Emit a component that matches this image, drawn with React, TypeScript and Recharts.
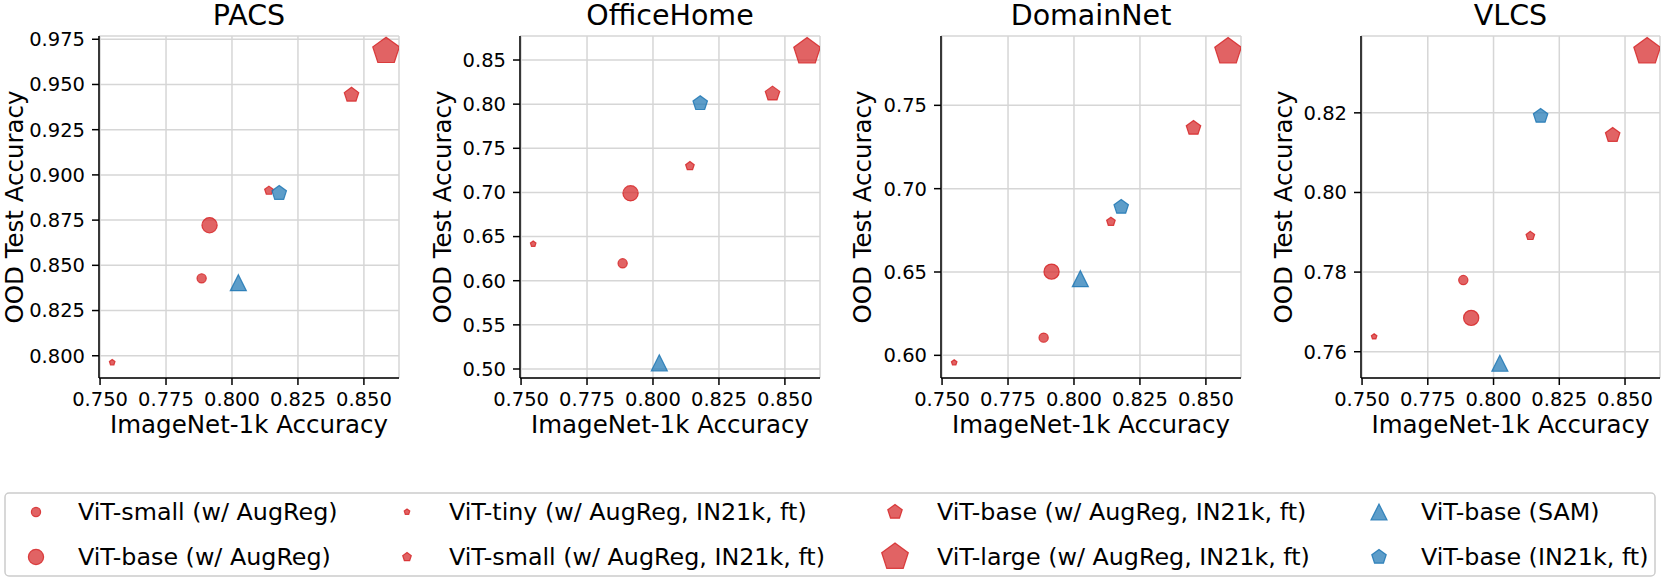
import React from 'react';
import { ScatterChart, Scatter, XAxis, YAxis, CartesianGrid } from 'recharts';

// ---------- data ----------
const MODELS = [
  'ViT-small (w/ AugReg)',
  'ViT-base (w/ AugReg)',
  'ViT-tiny (w/ AugReg, IN21k, ft)',
  'ViT-small (w/ AugReg, IN21k, ft)',
  'ViT-base (w/ AugReg, IN21k, ft)',
  'ViT-large (w/ AugReg, IN21k, ft)',
  'ViT-base (SAM)',
  'ViT-base (IN21k, ft)',
];
const IMAGENET = [0.7885, 0.7915, 0.7546, 0.8140, 0.8453, 0.8584, 0.8024, 0.8179];
const PACS = [0.8428, 0.8722, 0.7963, 0.8913, 0.9442, 0.9684, 0.8404, 0.8899];
const OFFICEHOME = [0.6197, 0.6990, 0.6416, 0.7299, 0.8118, 0.8596, 0.5070, 0.8009];
const DOMAINNET = [0.6106, 0.6502, 0.5956, 0.6802, 0.7364, 0.7823, 0.6460, 0.6890];
const VLCS = [0.7780, 0.7685, 0.7638, 0.7891, 0.8144, 0.8354, 0.7571, 0.8192];

const X_TICKS = [0.75, 0.775, 0.8, 0.825, 0.85];
const PACS_TICKS = [0.8, 0.825, 0.85, 0.875, 0.9, 0.925, 0.95, 0.975];
const OFFICEHOME_TICKS = [0.5, 0.55, 0.6, 0.65, 0.7, 0.75, 0.8, 0.85];
const DOMAINNET_TICKS = [0.6, 0.65, 0.7, 0.75];
const VLCS_TICKS = [0.76, 0.78, 0.8, 0.82];

// ---------- styles ----------
const RED = '#d62728';
const BLUE = '#1f77b4';
type Kind = 'circle' | 'pentagon' | 'triangle';
const MARKER_STYLES: { kind: Kind; r: number; color: string }[] = [
  { kind: 'circle', r: 4.6, color: RED },
  { kind: 'circle', r: 7.6, color: RED },
  { kind: 'pentagon', r: 2.9, color: RED },
  { kind: 'pentagon', r: 4.5, color: RED },
  { kind: 'pentagon', r: 7.6, color: RED },
  { kind: 'pentagon', r: 14, color: RED },
  { kind: 'triangle', r: 8, color: BLUE },
  { kind: 'pentagon', r: 7.6, color: BLUE },
];

const FONT = '"DejaVu Sans", sans-serif';
const TICK_FS = 19.5;
const LABEL_FS = 24.5;
const TITLE_FS = 28.5;
const LEGEND_FS = 23.8;
const X_DOMAIN: [number, number] = [0.7496, 0.8633];
const Y_AXIS_W = 99;
const PLOT_TOP = 36;
const PLOT_H = 342;
const X_AXIS_H = 62;

const PANELS = [
  { title: 'PACS', values: PACS, domain: [0.7877, 0.9768], ticks: PACS_TICKS, digits: 3, left: 99, width: 300, ylabelOff: 76.5 },
  { title: 'OfficeHome', values: OFFICEHOME, domain: [0.4898, 0.8772], ticks: OFFICEHOME_TICKS, digits: 2, left: 520, width: 300, ylabelOff: 69 },
  { title: 'DomainNet', values: DOMAINNET, domain: [0.5864, 0.7916], ticks: DOMAINNET_TICKS, digits: 2, left: 941, width: 300, ylabelOff: 70 },
  { title: 'VLCS', values: VLCS, domain: [0.7534, 0.8393], ticks: VLCS_TICKS, digits: 2, left: 1361, width: 299, ylabelOff: 69.5 },
];

function Marker({ cx, cy, kind, r, color }: { cx: number; cy: number; kind: Kind; r: number; color: string }) {
  const common = {
    fill: color,
    fillOpacity: 0.72,
    stroke: color,
    strokeOpacity: 0.85,
    strokeWidth: 1.2,
  };
  if (cx == null || cy == null || isNaN(cx) || isNaN(cy)) return null;
  if (kind === 'circle') return <circle cx={cx} cy={cy} r={r} {...common} />;
  if (kind === 'triangle') {
    const pts = `${cx},${cy - r} ${cx - r},${cy + r} ${cx + r},${cy + r}`;
    return <polygon points={pts} {...common} strokeLinejoin="miter" />;
  }
  const pts: string[] = [];
  for (let k = 0; k < 5; k++) {
    const a = (-90 + 72 * k) * (Math.PI / 180);
    pts.push(`${cx + r * Math.cos(a)},${cy + r * Math.sin(a)}`);
  }
  return <polygon points={pts.join(' ')} {...common} />;
}

function Panel({ p }: { p: (typeof PANELS)[number] }) {
  const chartW = Y_AXIS_W + p.width + 1;
  const chartH = PLOT_TOP + PLOT_H + X_AXIS_H;
  const cxMid = Y_AXIS_W + p.width / 2;
  const yx = Y_AXIS_W - p.ylabelOff;
  const yy = PLOT_TOP + PLOT_H / 2;
  const xLabelAndTitle = () => (
    <g>
      <text x={cxMid} y={24.5} textAnchor="middle" fontSize={TITLE_FS} fontFamily={FONT} fill="#000">
        {p.title}
      </text>
      <text x={cxMid} y={PLOT_TOP + PLOT_H + 55} textAnchor="middle" fontSize={LABEL_FS} fontFamily={FONT} fill="#000">
        ImageNet-1k Accuracy
      </text>
    </g>
  );
  const yLabel = () => (
    <text
      x={yx}
      y={yy}
      textAnchor="middle"
      transform={`rotate(-90, ${yx}, ${yy})`}
      fontSize={LABEL_FS}
      fontFamily={FONT}
      fill="#000"
    >
      OOD Test Accuracy
    </text>
  );
  const spine = { stroke: '#000', strokeWidth: 1.5 };
  return (
    <div style={{ position: 'absolute', left: p.left - Y_AXIS_W, top: 0 }}>
      <ScatterChart width={chartW} height={chartH} margin={{ top: PLOT_TOP, right: 1, bottom: 0, left: 0 }}>
        <CartesianGrid stroke="#d6d6d6" strokeWidth={1.5} />
        <XAxis
          type="number"
          dataKey="x"
          domain={X_DOMAIN}
          ticks={X_TICKS}
          allowDataOverflow
          interval={0}
          height={X_AXIS_H}
          tickSize={7}
          tickMargin={7}
          tickFormatter={(v: number) => v.toFixed(3)}
          tick={{ fill: '#000', fontSize: TICK_FS, fontFamily: FONT }}
          tickLine={spine}
          axisLine={spine}
          label={xLabelAndTitle}
        />
        <XAxis
          xAxisId="top"
          orientation="top"
          type="number"
          domain={X_DOMAIN}
          allowDataOverflow
          height={0}
          tick={false}
          tickLine={false}
          axisLine={spine}
        />
        <YAxis
          type="number"
          dataKey="y"
          domain={p.domain}
          ticks={p.ticks}
          allowDataOverflow
          interval={0}
          width={Y_AXIS_W}
          tickSize={7}
          tickMargin={7}
          tickFormatter={(v: number) => v.toFixed(p.digits)}
          tick={{ fill: '#000', fontSize: TICK_FS, fontFamily: FONT }}
          tickLine={spine}
          axisLine={spine}
          label={yLabel}
        />
        <YAxis
          yAxisId="right"
          orientation="right"
          type="number"
          domain={p.domain}
          allowDataOverflow
          width={0}
          tick={false}
          tickLine={false}
          axisLine={spine}
        />
        {MODELS.map((m, i) => {
          const st = MARKER_STYLES[i];
          return (
            <Scatter
              key={m}
              name={m}
              data={[{ x: IMAGENET[i], y: p.values[i] }]}
              isAnimationActive={false}
              shape={(props: any) => <Marker cx={props.cx} cy={props.cy} kind={st.kind} r={st.r} color={st.color} />}
            />
          );
        })}
      </ScatterChart>
    </div>
  );
}

const LEGEND_COL_MARKER_X = [36, 407, 895, 1379];
const LEGEND_ROW_Y = [32, 77];
// column-major order, as matplotlib fills legend columns
const LEGEND_ORDER = [0, 1, 2, 3, 4, 5, 6, 7];

function LegendBox() {
  return (
    <svg width={1661} height={97} style={{ position: 'absolute', left: 0, top: 480 }}>
      <rect x={5} y={13} width={1650} height={83} rx={4} fill="#fff" stroke="#cccccc" strokeWidth={1.5} />
      {LEGEND_ORDER.map((mi, k) => {
        const col = Math.floor(k / 2);
        const row = k % 2;
        const mx = LEGEND_COL_MARKER_X[col];
        const my = LEGEND_ROW_Y[row];
        const st = MARKER_STYLES[mi];
        return (
          <g key={mi}>
            <Marker cx={mx} cy={my} kind={st.kind} r={st.r} color={st.color} />
            <text x={mx + 42} y={my} dominantBaseline="central" fontSize={LEGEND_FS} fontFamily={FONT} fill="#000">
              {MODELS[mi]}
            </text>
          </g>
        );
      })}
    </svg>
  );
}

export default function App() {
  return (
    <div
      style={{
        position: 'absolute',
        left: 0,
        top: 0,
        width: 1661,
        height: 577,
        overflow: 'hidden',
        background: '#fff',
        fontFamily: FONT,
      }}
    >
      {PANELS.map((p) => (
        <Panel key={p.title} p={p} />
      ))}
      <LegendBox />
    </div>
  );
}
